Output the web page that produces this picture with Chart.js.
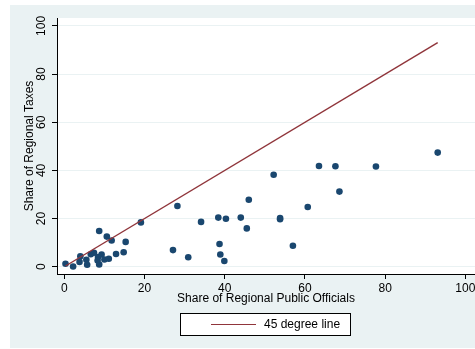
<!DOCTYPE html>
<html>
<head>
<meta charset="utf-8">
<script src="https://cdn.jsdelivr.net/npm/chart.js@4"></script>
<style>
  body { margin: 0; background: #fff; }
  canvas { display: block; }
</style>
</head>
<body>
<canvas id="grafico" width="475" height="349"></canvas>
<script>
// share of regional public officials (x) vs share of regional taxes (y)
const officials = [0.3, 2.2, 4.0, 3.8, 5.5, 5.7, 6.6, 7.4, 8.7, 8.4, 8.3, 8.7, 9.3, 10.0, 11.1,
  10.6, 11.8, 12.9, 14.8, 15.3, 19.1, 27.1, 28.2, 30.9, 34.1, 38.4, 38.7, 38.9, 39.9, 40.3,
  44.0, 46.0, 45.5, 52.2, 53.8, 53.8, 57.0, 60.7, 63.5, 67.6, 68.6, 77.7, 93.1];
const taxes = [1.2, 0.1, 4.3, 2.0, 2.9, 0.8, 5.2, 5.8, 14.8, 4.0, 2.6, 0.9, 5.1, 3.0, 3.3,
  12.5, 10.9, 5.3, 6.0, 10.3, 18.4, 6.9, 25.2, 3.9, 18.6, 20.4, 9.4, 5.1, 2.4, 19.9,
  20.4, 27.8, 15.9, 38.2, 19.7, 20.2, 8.7, 24.8, 41.8, 41.7, 31.2, 41.6, 47.4];
const lineX = [0.3, 93.1];
const lineY = [0.3, 93.1];
const xTicks = [0, 20, 40, 60, 80, 100];
const yTicks = [0, 20, 40, 60, 80, 100];

const navy = '#1a476f';
const maroon = '#90353b';
const cinza = '#eaf2f3';
const fonte = 'Arial, "Liberation Sans", Helvetica, sans-serif';

const fundo = {
  id: 'fundo',
  beforeDraw(chart) {
    const c = chart.ctx, a = chart.chartArea;
    c.save();
    c.fillStyle = '#fff';
    c.fillRect(0, 0, chart.width, chart.height);
    c.fillStyle = cinza;
    c.fillRect(10, 5, chart.width - 10, chart.height - 6);
    c.fillStyle = '#fff';
    c.fillRect(a.left, a.top, a.right - a.left, a.bottom - a.top);
    c.restore();
  }
};

const legenda = {
  id: 'legenda',
  afterDraw(chart) {
    const c = chart.ctx;
    c.save();
    c.fillStyle = '#fff';
    c.fillRect(180, 313, 171, 23);
    c.strokeStyle = '#000';
    c.lineWidth = 1;
    c.strokeRect(180.5, 313.5, 170, 22);
    c.strokeStyle = maroon;
    c.beginPath();
    c.moveTo(211, 324.5);
    c.lineTo(256, 324.5);
    c.stroke();
    c.fillStyle = '#000';
    c.font = '12px ' + fonte;
    c.textBaseline = 'middle';
    c.fillText(chart.data.datasets[0].label, 264, 325);
    c.restore();
  }
};

new Chart(document.getElementById('grafico'), {
  type: 'scatter',
  data: {
    datasets: [{
      type: 'line',
      label: '45 degree line',
      data: lineX.map((x, i) => ({ x: x, y: lineY[i] })),
      borderColor: maroon,
      borderWidth: 1.4,
      pointRadius: 0,
      fill: false
    }, {
      label: 'regions',
      data: officials.map((x, i) => ({ x: x, y: taxes[i] })),
      backgroundColor: navy,
      borderWidth: 0,
      pointRadius: 3.3
    }]
  },
  options: {
    responsive: false,
    animation: false,
    layout: { autoPadding: false, padding: { left: 10, top: 18, right: 0, bottom: 41 } },
    plugins: { legend: { display: false }, tooltip: { enabled: false } },
    scales: {
      x: {
        type: 'linear',
        min: -1.82,
        max: 102.4,
        afterBuildTicks: s => { s.ticks = xTicks.map(v => ({ value: v })); },
        afterFit: s => { s.height = 34; s.paddingLeft = 0; s.paddingRight = 0; },
        grid: { drawOnChartArea: false, drawTicks: true, tickLength: 5, tickColor: '#000' },
        border: { display: true, color: '#000', width: 1 },
        ticks: { color: '#000', padding: 2, maxRotation: 0, font: { family: fonte, size: 12 } },
        title: { display: true, text: 'Share of Regional Public Officials', color: '#000',
          padding: { top: 0, bottom: 2 }, font: { family: fonte, size: 12 } }
      },
      y: {
        type: 'linear',
        min: -3.03,
        max: 103.3,
        afterBuildTicks: s => { s.ticks = yTicks.map(v => ({ value: v })); },
        afterFit: s => { s.width = 47; s.paddingTop = 0; s.paddingBottom = 0; },
        grid: { color: cinza, lineWidth: 1, drawTicks: true, tickLength: 5, tickColor: '#000' },
        border: { display: true, color: '#000', width: 1 },
        ticks: { color: '#000', padding: 0, minRotation: 90, maxRotation: 90, crossAlign: 'center',
          font: { family: fonte, size: 12 } },
        title: { display: true, text: 'Share of Regional Taxes', color: '#000',
          padding: { top: 12, bottom: 0 }, font: { family: fonte, size: 12 } }
      }
    }
  },
  plugins: [fundo, legenda]
});
</script>
</body>
</html>
